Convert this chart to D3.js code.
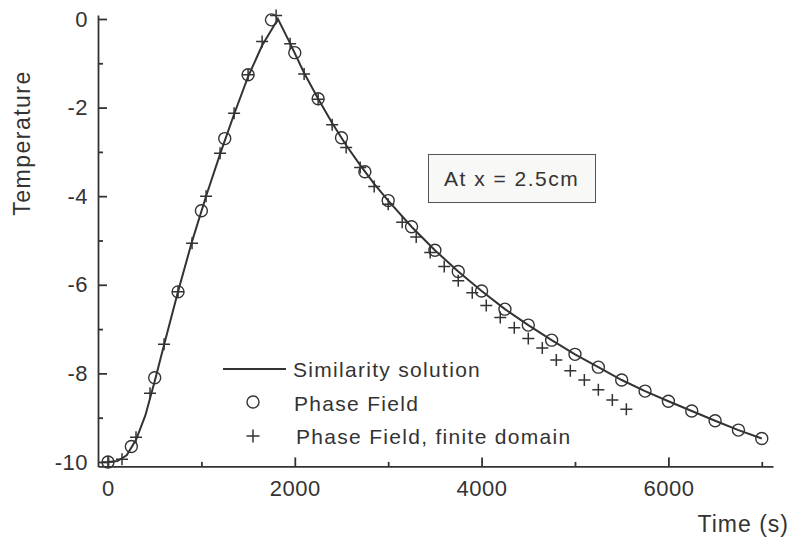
<!DOCTYPE html>
<html>
<head>
<meta charset="utf-8">
<script src="https://cdn.jsdelivr.net/npm/d3@7"></script>
<style>
  body { margin: 0; background: #fff; }
  svg { display: block; font-family: "Liberation Sans", Arial, sans-serif; }
  .axis path, .axis line { stroke: #333; stroke-width: 1.8; }
  .axis text { fill: #333; font-size: 22px; letter-spacing: 0.5px; }
</style>
</head>
<body>
<div id="chart"></div>
<script>
// Similarity solution (solid curve)
const lineTime = [0, 100, 200, 300, 400, 500, 600, 750, 900, 1050, 1200, 1350, 1500, 1650, 1820,
  1950, 2100, 2250, 2400, 2550, 2700, 2850, 3000, 3250, 3500, 3750, 4000, 4250, 4500, 4750,
  5000, 5250, 5500, 5750, 6000, 6250, 6500, 6750, 7000];
const lineTemp = [-10, -9.98, -9.85, -9.5, -8.95, -8.18, -7.36, -6.15, -5.02, -4.0, -3.05, -2.15, -1.3, -0.6, 0,
  -0.55, -1.22, -1.8, -2.35, -2.85, -3.3, -3.72, -4.1, -4.69, -5.22, -5.7, -6.14, -6.55, -6.91, -7.25,
  -7.57, -7.86, -8.15, -8.4, -8.63, -8.85, -9.07, -9.28, -9.47];

// Phase Field (circles)
const circleTime = [0, 250, 500, 750, 1000, 1250, 1500, 1750, 2000, 2250, 2500, 2750, 3000, 3250,
  3500, 3750, 4000, 4250, 4500, 4750, 5000, 5250, 5500, 5750, 6000, 6250, 6500, 6750, 7000];
const circleTemp = [-10, -9.65, -8.10, -6.16, -4.33, -2.70, -1.26, -0.02, -0.76, -1.80, -2.68, -3.45, -4.10, -4.69,
  -5.22, -5.70, -6.14, -6.55, -6.91, -7.25, -7.57, -7.86, -8.15, -8.40, -8.63, -8.85, -9.07, -9.28, -9.47];

// Phase Field, finite domain (crosses)
const crossTime = [0, 150, 300, 450, 600, 750, 900, 1050, 1200, 1350, 1500, 1650, 1800, 1950, 2100,
  2250, 2400, 2550, 2700, 2850, 3000, 3150, 3300, 3450, 3600, 3750, 3900, 4050, 4200, 4350,
  4500, 4650, 4800, 4950, 5100, 5250, 5400, 5550];
const crossTemp = [-10, -9.94, -9.44, -8.45, -7.34, -6.16, -5.06, -4.00, -3.03, -2.13, -1.26, -0.51, 0.08, -0.56, -1.24,
  -1.81, -2.39, -2.90, -3.35, -3.78, -4.18, -4.59, -4.92, -5.27, -5.59, -5.91, -6.18, -6.47, -6.74, -6.97,
  -7.21, -7.43, -7.70, -7.94, -8.15, -8.37, -8.60, -8.81];

// Axis ticks
const xMajorTicks = [0, 2000, 4000, 6000];
const xMinorTicks = [1000, 3000, 5000, 7000];
const yMajorTicks = [0, -2, -4, -6, -8, -10];
const yMinorTicks = [-1, -3, -5, -7, -9];

const legendLabels = ["Similarity solution", "Phase Field", "Phase Field, finite domain"];
const noteText = "At x = 2.5cm";

const svgWidth = 792, svgHeight = 542;
const ink = "#333";

const svg = d3.select("#chart").append("svg")
  .attr("width", svgWidth)
  .attr("height", svgHeight);

// Scales
const x = d3.scaleLinear().domain([-107, 7120]).range([98, 773]);
const y = d3.scaleLinear().domain([-10.1, 0.09]).range([466.4, 15]);

// plain hyphen minus like the original
const plain = d => String(d);

// Minor ticks first (no labels)
svg.append("g")
  .attr("class", "axis")
  .attr("transform", `translate(0, ${y.range()[0]})`)
  .call(d3.axisBottom(x).tickValues(xMinorTicks).tickSize(-4.5).tickSizeOuter(0).tickFormat(""))
  .select(".domain").remove();

svg.append("g")
  .attr("class", "axis")
  .attr("transform", `translate(${x.range()[0]}, 0)`)
  .call(d3.axisLeft(y).tickValues(yMinorTicks).tickSize(-5).tickSizeOuter(0).tickFormat(""))
  .select(".domain").remove();

// Major axes
svg.append("g")
  .attr("class", "axis")
  .attr("transform", `translate(0, ${y.range()[0]})`)
  .call(d3.axisBottom(x).tickValues(xMajorTicks).tickSize(-9).tickSizeOuter(0).tickPadding(14).tickFormat(plain));

svg.append("g")
  .attr("class", "axis")
  .attr("transform", `translate(${x.range()[0]}, 0)`)
  .call(d3.axisLeft(y).tickValues(yMajorTicks).tickSize(-9).tickSizeOuter(0).tickPadding(10).tickFormat(plain));

// Axis titles
svg.append("text")
  .attr("transform", "translate(30, 143) rotate(-90)")
  .attr("text-anchor", "middle")
  .attr("fill", ink)
  .style("font-size", "23px")
  .style("letter-spacing", "1.5px")
  .text("Temperature");

svg.append("text")
  .attr("x", 789)
  .attr("y", 532)
  .attr("text-anchor", "end")
  .attr("fill", ink)
  .style("font-size", "23px")
  .style("letter-spacing", "1px")
  .text("Time (s)");

// Similarity solution curve
const lineData = lineTime.map((t, i) => [t, lineTemp[i]]);
svg.append("path")
  .datum(lineData)
  .attr("fill", "none")
  .attr("stroke", ink)
  .attr("stroke-width", 2)
  .attr("d", d3.line().x(d => x(d[0])).y(d => y(d[1])));

// Phase Field circles
svg.append("g").selectAll("circle")
  .data(circleTime.map((t, i) => [t, circleTemp[i]]))
  .enter()
  .append("circle")
  .attr("cx", d => x(d[0]))
  .attr("cy", d => y(d[1]))
  .attr("r", 6)
  .attr("fill", "none")
  .attr("stroke", ink)
  .attr("stroke-width", 1.4);

// finite domain crosses
const crossPath = s => `M${-s},0H${s}M0,${-s}V${s}`;
svg.append("g").selectAll("path")
  .data(crossTime.map((t, i) => [t, crossTemp[i]]))
  .enter()
  .append("path")
  .attr("transform", d => `translate(${x(d[0])}, ${y(d[1])})`)
  .attr("d", crossPath(6))
  .attr("fill", "none")
  .attr("stroke", ink)
  .attr("stroke-width", 1.5);

// Legend
const legend = svg.append("g");
legend.append("line")
  .attr("x1", 223).attr("x2", 286)
  .attr("y1", 369).attr("y2", 369)
  .attr("stroke", ink).attr("stroke-width", 2);
legend.append("circle")
  .attr("cx", 253).attr("cy", 402).attr("r", 6)
  .attr("fill", "none").attr("stroke", ink).attr("stroke-width", 1.4);
legend.append("path")
  .attr("transform", "translate(253, 436)")
  .attr("d", crossPath(6.5))
  .attr("stroke", ink).attr("stroke-width", 1.5);

const legendX = [293, 294, 296];
const legendY = [377, 411, 444];
legend.selectAll("text.leg")
  .data(legendLabels)
  .enter()
  .append("text")
  .attr("class", "leg")
  .attr("x", (d, i) => legendX[i])
  .attr("y", (d, i) => legendY[i])
  .attr("fill", ink)
  .style("font-size", "21px")
  .style("letter-spacing", "1.3px")
  .text(d => d);

// Annotation box
svg.append("rect")
  .attr("x", 428.5).attr("y", 154.5)
  .attr("width", 167).attr("height", 48)
  .attr("fill", "#f8f8f6")
  .attr("stroke", "#555")
  .attr("stroke-width", 1);

svg.append("text")
  .attr("x", 444)
  .attr("y", 186)
  .attr("fill", ink)
  .style("font-size", "21px")
  .style("letter-spacing", "1.5px")
  .text(noteText);
</script>
</body>
</html>
